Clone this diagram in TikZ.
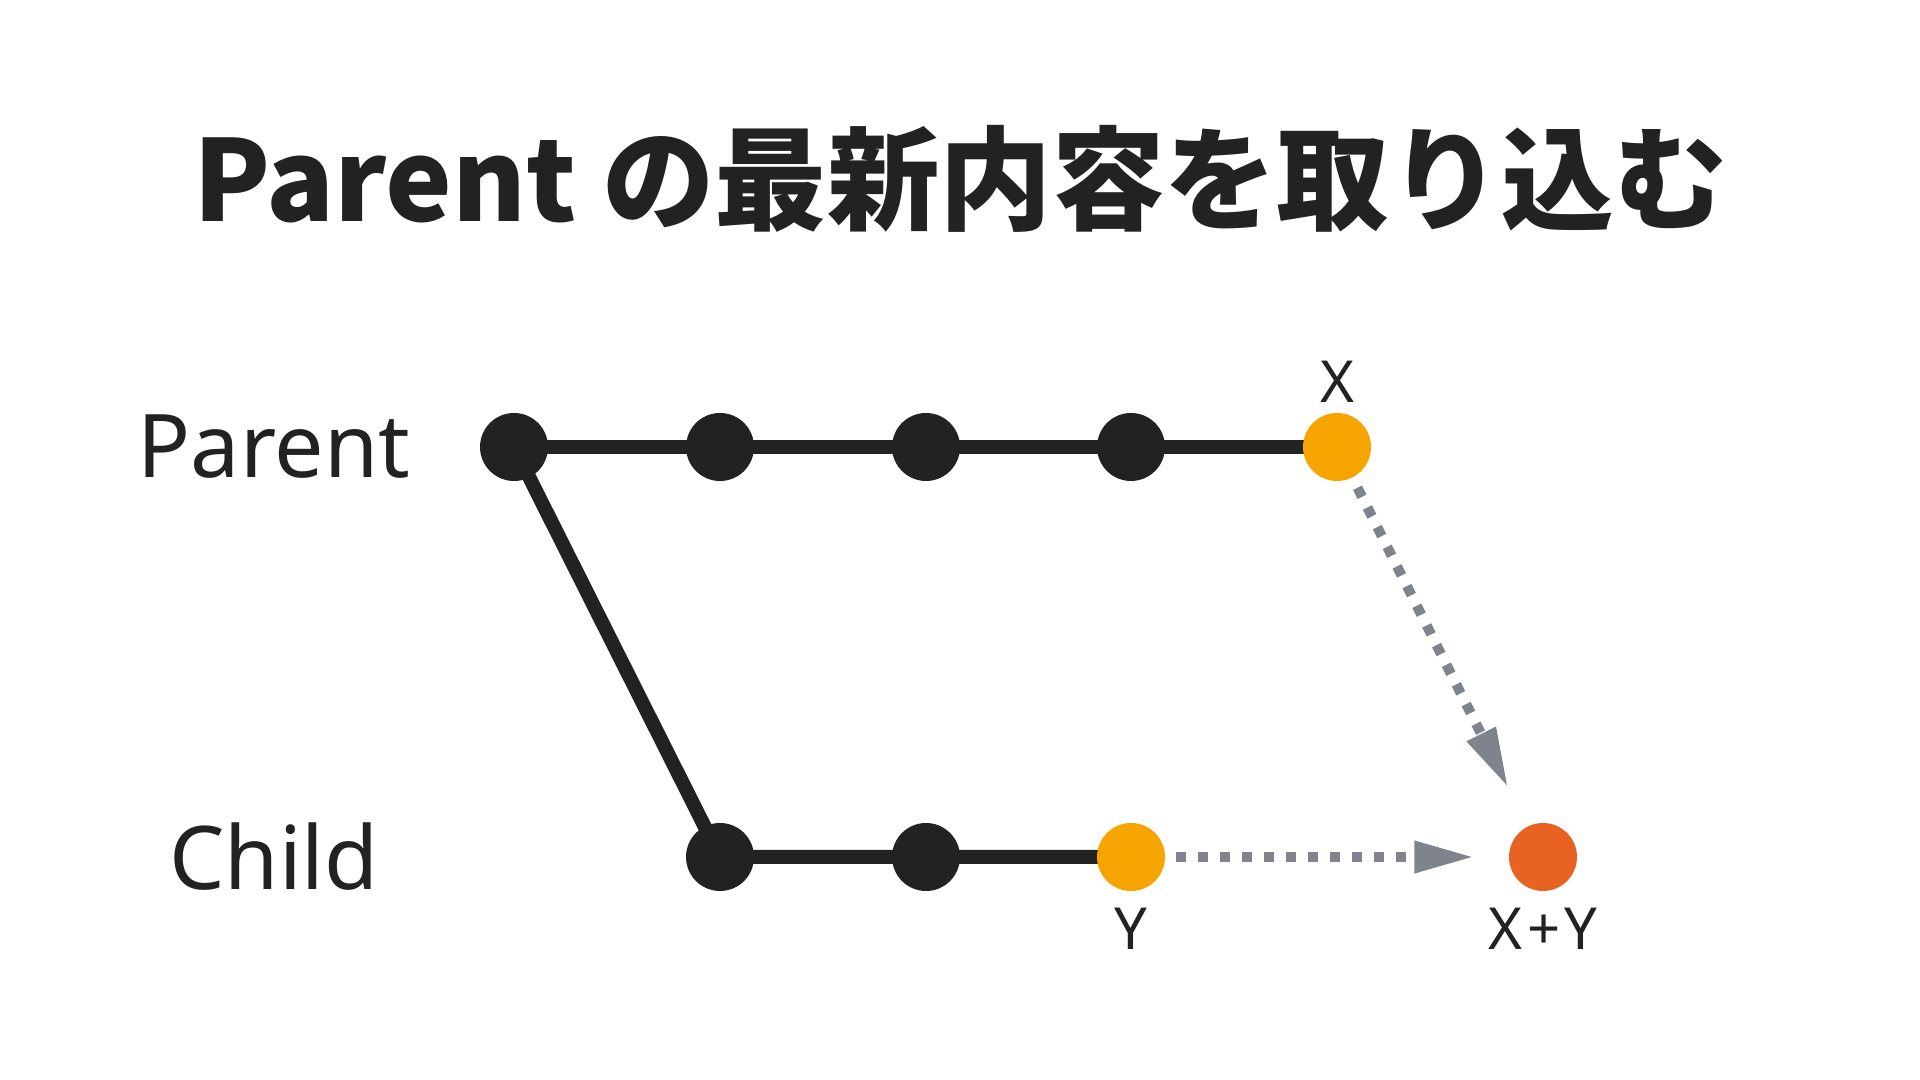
\documentclass[tikz,border=0pt]{standalone}
\usepackage{fontspec}
\setmainfont{Noto Sans}
\newfontfamily\jpfont{Noto Sans CJK JP}
\usetikzlibrary{arrows.meta,backgrounds}

\definecolor{ink}{HTML}{222222}
\definecolor{mergeorange}{HTML}{F6A400}
\definecolor{resultred}{HTML}{E86222}
\definecolor{arrowgray}{HTML}{7F838C}

\tikzset{
  commit/.style={circle, fill=ink, minimum size=0.68cm, inner sep=0pt},
  picked/.style={commit, fill=mergeorange},
  merged/.style={commit, fill=resultred},
  branch/.style={draw=ink, line width=0.14cm},
  pull/.style={draw=arrowgray, line width=0.1cm, dash pattern=on 0.1cm off 0.12cm,
    -{Triangle[length=0.6cm, width=0.3cm]}},
  tag/.style={font=\fontsize{16.5}{18}\selectfont, text=ink, anchor=base},
  lane/.style={font=\fontsize{25}{30}\selectfont, text=ink, anchor=base}
}

\begin{document}
\begin{tikzpicture}
    \useasboundingbox (0,0) rectangle (19.2,10.8);

    % Title
    \node[anchor=base, text=ink, font=\jpfont\bfseries\fontsize{32}{36}\selectfont] (title) at (9.6,8.58) {Parent の最新内容を取り込む};

    % Lane labels
    \node[lane] (parentlabel) at (2.74,6.02) {Parent};
    \node[lane] (childlabel) at (2.74,1.90) {Child};

    % Commits
    \node[commit] (p1) at (5.14,6.33) {};
    \node[commit] (p2) at (7.20,6.33) {};
    \node[commit] (p3) at (9.26,6.33) {};
    \node[commit] (p4) at (11.31,6.33) {};
    \node[picked] (p5) at (13.37,6.33) {};
    \node[commit] (c1) at (7.20,2.23) {};
    \node[commit] (c2) at (9.26,2.23) {};
    \node[picked] (c3) at (11.31,2.23) {};
    \node[merged] (m) at (15.43,2.23) {};

    % Commit labels
    \node[tag] (xlabel) at (13.37,6.77) {X};
    \node[tag] (ylabel) at (11.31,1.30) {Y};
    \node[tag] (xylabel) at (15.43,1.30) {X\kern0.08em+\kern0.08em Y};

    % Branch lines, behind the commits
    \begin{pgfonlayer}{background}
    \fill[white] (0,0) rectangle (19.2,10.8);
    \draw[branch] (p1.center) -- (p2.center) -- (p3.center) -- (p4.center) -- (p5.center);
    \draw[branch] (p1.center) -- (c1.center) -- (c2.center) -- (c3.center);
    \end{pgfonlayer}

    % Merge arrows
    \draw[pull, shorten <=0.11cm, shorten >=0.43cm] (p5) -- (m);
    \draw[pull, shorten <=0.1cm, shorten >=0.34cm] (c3) -- (m);
\end{tikzpicture}
\end{document}
